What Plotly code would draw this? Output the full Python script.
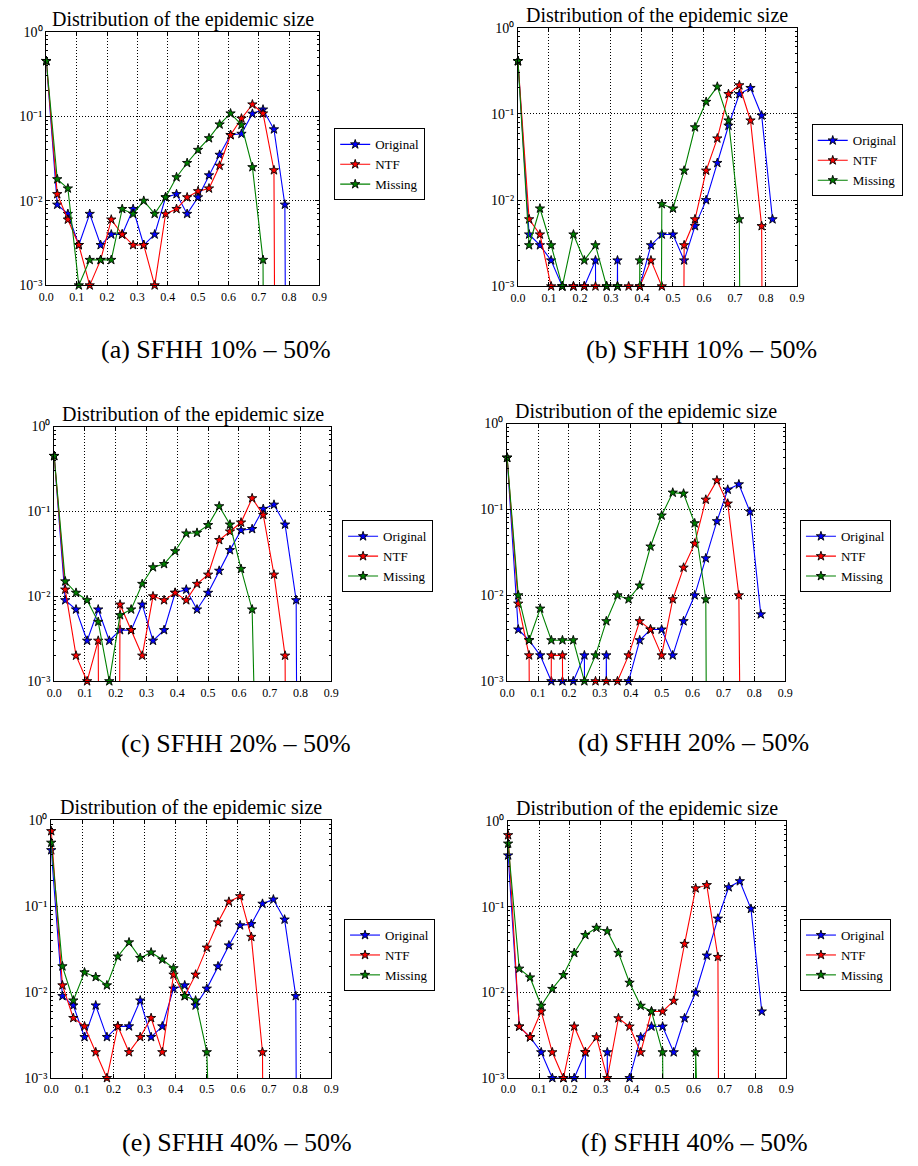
import plotly.graph_objects as go

W, H = 918, 1166

# ---------------- data ----------------
x_bins = [0.0, 0.036, 0.071, 0.107, 0.143, 0.179, 0.214, 0.25, 0.286, 0.321, 0.357, 0.393,
          0.429, 0.464, 0.5, 0.536, 0.571, 0.607, 0.643, 0.679, 0.714, 0.75, 0.786, 0.821]

series_names = ["Original", "NTF", "Missing"]

orig_a = [0.45, 0.009, 0.007, 0.003, 0.007, 0.003, 0.004, 0.004, 0.008, 0.003, 0.004, 0.011,
          0.012, 0.007, 0.011, 0.02, 0.035, 0.06, 0.062, 0.107, 0.12, 0.07, 0.009, 0]
ntf_a = [0.45, 0.012, 0.006, 0.003, 0.001, 0.002, 0.006, 0.004, 0.003, 0.003, 0.001, 0.007,
         0.008, 0.011, 0.013, 0.014, 0.026, 0.06, 0.094, 0.138, 0.108, 0.023, 0, 0]
miss_a = [0.45, 0.018, 0.014, 0.001, 0.002, 0.002, 0.002, 0.008, 0.007, 0.01, 0.007, 0.011,
          0.019, 0.028, 0.04, 0.055, 0.08, 0.108, 0.079, 0.025, 0.002, 0, 0, 0]

orig_b = [0.41, 0.004, 0.003, 0.002, 0.001, 0.001, 0.001, 0.002, 0, 0.002, 0, 0.001,
          0.003, 0.004, 0.004, 0.002, 0.005, 0.01, 0.027, 0.073, 0.17, 0.2, 0.096, 0.006]
ntf_b = [0.41, 0.006, 0.004, 0.001, 0.001, 0.001, 0.001, 0.001, 0.001, 0.001, 0.001, 0.001,
         0.002, 0.001, 0, 0.003, 0.006, 0.022, 0.052, 0.17, 0.215, 0.084, 0.005, 0]
miss_b = [0.41, 0.003, 0.008, 0.003, 0.001, 0.004, 0.002, 0.003, 0.001, 0.001, 0, 0.002,
          0, 0.009, 0.008, 0.022, 0.07, 0.138, 0.207, 0.084, 0.006, 0, 0, 0]

orig_c = [0.45, 0.009, 0.007, 0.003, 0.007, 0.003, 0.004, 0.004, 0.008, 0.003, 0.004, 0.011,
          0.012, 0.007, 0.011, 0.02, 0.035, 0.06, 0.062, 0.107, 0.12, 0.07, 0.009, 0]
ntf_c = [0.45, 0.012, 0.002, 0.001, 0.003, 0, 0.008, 0.004, 0.002, 0.01, 0.009, 0.011,
         0.009, 0.014, 0.018, 0.046, 0.058, 0.074, 0.143, 0.091, 0.018, 0.002, 0, 0]
miss_c = [0.45, 0.015, 0.011, 0.009, 0.005, 0.001, 0.006, 0.007, 0.014, 0.022, 0.024, 0.034,
          0.055, 0.056, 0.069, 0.115, 0.07, 0.021, 0.007, 0, 0, 0, 0, 0]

orig_d = [0.4, 0.004, 0.003, 0.002, 0.001, 0.001, 0.001, 0.002, 0, 0.002, 0, 0.001,
          0.003, 0.004, 0.004, 0.002, 0.005, 0.01, 0.027, 0.073, 0.17, 0.196, 0.094, 0.006]
ntf_d = [0.4, 0.008, 0.002, 0, 0.002, 0.002, 0, 0, 0.001, 0.001, 0.001, 0.002,
         0.005, 0.004, 0.002, 0.009, 0.021, 0.04, 0.13, 0.218, 0.117, 0.01, 0, 0]
miss_d = [0.4, 0.01, 0.003, 0.007, 0.003, 0.003, 0.003, 0.001, 0.002, 0.005, 0.01, 0.009,
          0.013, 0.037, 0.085, 0.157, 0.153, 0.069, 0.009, 0, 0, 0, 0, 0]

orig_e = [0.45, 0.009, 0.007, 0.003, 0.007, 0.003, 0.004, 0.004, 0.008, 0.003, 0.004, 0.011,
          0.012, 0.007, 0.011, 0.02, 0.035, 0.06, 0.062, 0.107, 0.12, 0.07, 0.009, 0]
ntf_e = [0.75, 0.012, 0.005, 0.004, 0.002, 0.001, 0.004, 0.002, 0.003, 0.005, 0.002, 0.016,
         0.009, 0.016, 0.033, 0.065, 0.113, 0.131, 0.044, 0.002, 0, 0, 0, 0]
miss_e = [0.55, 0.02, 0.008, 0.017, 0.015, 0.012, 0.026, 0.038, 0.025, 0.029, 0.024, 0.019,
          0.009, 0.008, 0.002, 0, 0, 0, 0, 0, 0, 0, 0, 0]

orig_f = [0.4, 0.004, 0.003, 0.002, 0.001, 0.001, 0.001, 0.002, 0, 0.002, 0, 0.001,
          0.003, 0.004, 0.004, 0.002, 0.005, 0.01, 0.027, 0.073, 0.17, 0.2, 0.095, 0.006]
ntf_f = [0.69, 0.004, 0.003, 0.006, 0.002, 0.001, 0.004, 0.002, 0.003, 0.001, 0.005, 0.004,
         0.002, 0.006, 0.006, 0.008, 0.037, 0.165, 0.18, 0.026, 0, 0, 0, 0]
miss_f = [0.55, 0.019, 0.015, 0.007, 0.011, 0.016, 0.029, 0.047, 0.057, 0.052, 0.029, 0.013,
          0.007, 0.006, 0.002, 0, 0, 0.002, 0, 0, 0, 0, 0, 0]

x_ticks = [0.0, 0.1, 0.2, 0.3, 0.4, 0.5, 0.6, 0.7, 0.8, 0.9]
x_ticklabels = ["0.0", "0.1", "0.2", "0.3", "0.4", "0.5", "0.6", "0.7", "0.8", "0.9"]
y_ticks = [0.001, 0.01, 0.1, 1.0]
y_ticklabels = ["10\u207b\u00b3", "10\u207b\u00b2", "10\u207b\u00b9", "10\u2070"]
y_minor = [m * 10 ** e for e in (-3, -2, -1) for m in range(2, 10)]

panel_title = "Distribution of the epidemic size"
captions = ["(a) SFHH 10% – 50%", "(b) SFHH 10% – 50%", "(c) SFHH 20% – 50%",
            "(d) SFHH 20% – 50%", "(e) SFHH 40% – 50%", "(f) SFHH 40% – 50%"]

# ---------------- style / layout ----------------
colors = ["#0000ff", "#ff0000", "#008000"]
FONT = "Liberation Serif"
ZERO_FLOOR = 1e-30  # zero bins drop off the log axis

panel_data = [
    (orig_a, ntf_a, miss_a), (orig_b, ntf_b, miss_b),
    (orig_c, ntf_c, miss_c), (orig_d, ntf_d, miss_d),
    (orig_e, ntf_e, miss_e), (orig_f, ntf_f, miss_f),
]
# frames in pixels: left, right, top, bottom
frames = [(39, 317, 25, 282), (519, 803, 21, 283),
          (47, 329, 425, 683), (508, 791, 422, 683),
          (44, 329, 824, 1085), (509, 792, 825, 1085)]
legend_pos = [(332, 123), (818, 119), (340, 520), (806, 520), (342, 924), (806, 924)]
caption_pos = [(212, 347), (706, 347), (232, 746), (698, 745), (233, 1150), (699, 1150)]

fig = go.Figure()
annotations = []
layout_axes = {}

for i, (series, fr, lp, cp, cap) in enumerate(zip(panel_data, frames, legend_pos, caption_pos, captions)):
    n = i + 1
    xa = "x" if n == 1 else f"x{n}"
    ya = "y" if n == 1 else f"y{n}"
    leg = "legend" if n == 1 else f"legend{n}"
    for vals, name, col in zip(series, series_names, colors):
        yplot = [v if v > 0 else ZERO_FLOOR for v in vals]
        fig.add_trace(go.Scatter(
            x=x_bins, y=yplot, name=name, mode="lines+markers",
            xaxis=xa, yaxis=ya, legend=leg, cliponaxis=False,
            line=dict(color=col, width=1.1),
            marker=dict(symbol="star", size=7, color=col, line=dict(color="black", width=0.9)),
            showlegend=True,
        ))
    l, r, t, b = fr
    xdom = [l / W, r / W]
    ydom = [1 - b / H, 1 - t / H]
    xkey = "xaxis" if n == 1 else f"xaxis{n}"
    ykey = "yaxis" if n == 1 else f"yaxis{n}"
    layout_axes[xkey] = dict(
        domain=xdom, anchor=ya, range=[0, 0.9], tickmode="array",
        tickvals=x_ticks, ticktext=x_ticklabels, ticks="inside", ticklen=4,
        tickcolor="black", showline=True, linecolor="black", linewidth=1, mirror="allticks",
        showgrid=True, gridcolor="black", griddash="1px,2px", gridwidth=1, zeroline=False,
        tickfont=dict(family=FONT, size=12, color="black"),
    )
    layout_axes[ykey] = dict(
        domain=ydom, anchor=xa, type="log", range=[-3, 0], tickmode="array",
        tickvals=y_ticks, ticktext=y_ticklabels, ticks="inside", ticklen=4,
        tickcolor="black", showline=True, linecolor="black", linewidth=1, mirror="allticks",
        showgrid=True, gridcolor="black", griddash="1px,2px", gridwidth=1, zeroline=False,
        tickfont=dict(family=FONT, size=14, color="black"),
        minor=dict(tickvals=y_minor, ticks="inside", ticklen=2, tickcolor="black", showgrid=False),
    )
    layout_axes[leg] = dict(
        x=lp[0] / W, y=1 - lp[1] / H, xanchor="left", yanchor="top",
        bordercolor="black", borderwidth=1, bgcolor="white",
        font=dict(family=FONT, size=13, color="black"),
        itemwidth=30, tracegroupgap=0,
    )
    annotations.append(dict(
        text=panel_title, x=(l + r) / 2 / W, y=1 - t / H, xref="paper", yref="paper",
        xanchor="center", yanchor="bottom", showarrow=False, yshift=-1,
        font=dict(family=FONT, size=20, color="black"),
    ))
    annotations.append(dict(
        text=cap, x=cp[0] / W, y=1 - cp[1] / H, xref="paper", yref="paper",
        xanchor="center", yanchor="middle", showarrow=False,
        font=dict(family=FONT, size=26, color="black"),
    ))

fig.update_layout(
    width=W, height=H, margin=dict(l=0, r=0, t=0, b=0),
    paper_bgcolor="white", plot_bgcolor="white",
    annotations=annotations, **layout_axes,
)

fig.write_html("out.html")
